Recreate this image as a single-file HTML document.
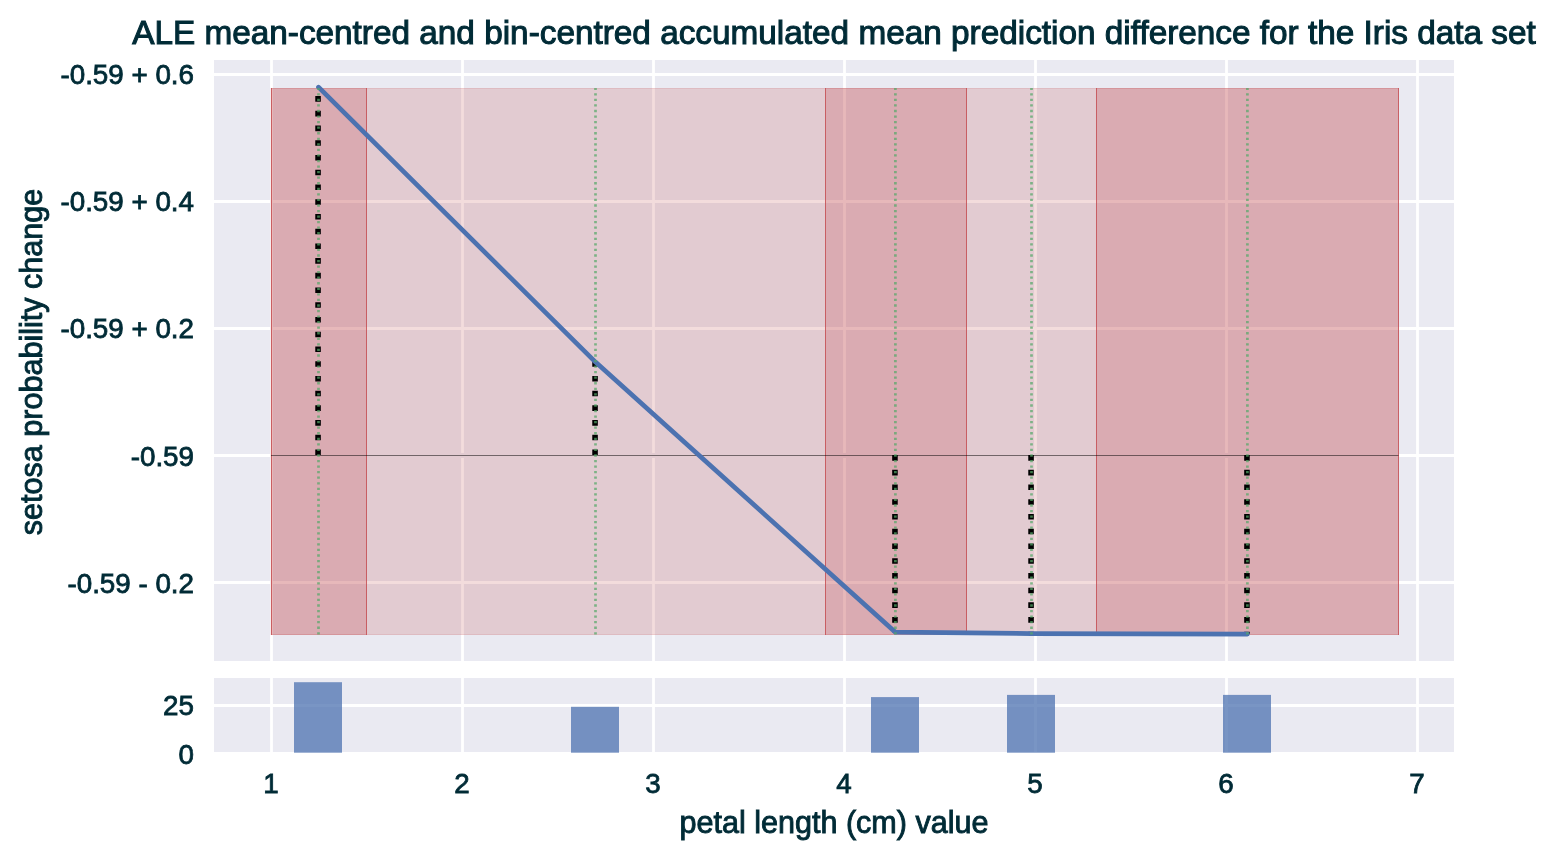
<!DOCTYPE html>
<html><head><meta charset="utf-8"><style>
html,body{margin:0;padding:0;background:#fff;overflow:hidden;}
svg{display:block;will-change:transform;}
text{font-family:"Liberation Sans", sans-serif;}
</style></head><body>
<svg width="1556" height="860" viewBox="0 0 1556 860">
<rect x="0" y="0" width="1556" height="860" fill="#ffffff"/>
<rect x="214" y="60" width="1240" height="601" fill="#EAEAF2"/>
<line x1="271.5" y1="60" x2="271.5" y2="661" stroke="#fff" stroke-width="2.78"/>
<line x1="462.5" y1="60" x2="462.5" y2="661" stroke="#fff" stroke-width="2.78"/>
<line x1="653.5" y1="60" x2="653.5" y2="661" stroke="#fff" stroke-width="2.78"/>
<line x1="844.5" y1="60" x2="844.5" y2="661" stroke="#fff" stroke-width="2.78"/>
<line x1="1035.5" y1="60" x2="1035.5" y2="661" stroke="#fff" stroke-width="2.78"/>
<line x1="1226.5" y1="60" x2="1226.5" y2="661" stroke="#fff" stroke-width="2.78"/>
<line x1="1417.5" y1="60" x2="1417.5" y2="661" stroke="#fff" stroke-width="2.78"/>
<line x1="214" y1="74.5" x2="1454" y2="74.5" stroke="#fff" stroke-width="2.78"/>
<line x1="214" y1="201.5" x2="1454" y2="201.5" stroke="#fff" stroke-width="2.78"/>
<line x1="214" y1="328.5" x2="1454" y2="328.5" stroke="#fff" stroke-width="2.78"/>
<line x1="214" y1="455.5" x2="271" y2="455.5" stroke="#fff" stroke-width="2.78"/>
<line x1="1399" y1="455.5" x2="1454" y2="455.5" stroke="#fff" stroke-width="2.78"/>
<line x1="214" y1="582.5" x2="1454" y2="582.5" stroke="#fff" stroke-width="2.78"/>
<rect x="270.75" y="88.0" width="95.75" height="547.0" fill="#C44E52" fill-opacity="0.4"/>
<line x1="271.5" y1="88.5" x2="366.5" y2="88.5" stroke="#C44E52" stroke-opacity="0.24" stroke-width="1"/>
<line x1="271.5" y1="634.5" x2="366.5" y2="634.5" stroke="#C44E52" stroke-opacity="0.24" stroke-width="1"/>
<rect x="366.5" y="88.0" width="459.0" height="547.0" fill="#C44E52" fill-opacity="0.2"/>
<line x1="366.5" y1="88.5" x2="825.5" y2="88.5" stroke="#C44E52" stroke-opacity="0.12" stroke-width="1"/>
<line x1="366.5" y1="634.5" x2="825.5" y2="634.5" stroke="#C44E52" stroke-opacity="0.12" stroke-width="1"/>
<rect x="825.5" y="88.0" width="141.0" height="547.0" fill="#C44E52" fill-opacity="0.4"/>
<line x1="825.5" y1="88.5" x2="966.5" y2="88.5" stroke="#C44E52" stroke-opacity="0.24" stroke-width="1"/>
<line x1="825.5" y1="634.5" x2="966.5" y2="634.5" stroke="#C44E52" stroke-opacity="0.24" stroke-width="1"/>
<rect x="966.5" y="88.0" width="130.0" height="547.0" fill="#C44E52" fill-opacity="0.2"/>
<line x1="966.5" y1="88.5" x2="1096.5" y2="88.5" stroke="#C44E52" stroke-opacity="0.12" stroke-width="1"/>
<line x1="966.5" y1="634.5" x2="1096.5" y2="634.5" stroke="#C44E52" stroke-opacity="0.12" stroke-width="1"/>
<rect x="1096.5" y="88.0" width="302.0" height="547.0" fill="#C44E52" fill-opacity="0.4"/>
<line x1="1096.5" y1="88.5" x2="1398.5" y2="88.5" stroke="#C44E52" stroke-opacity="0.24" stroke-width="1"/>
<line x1="1096.5" y1="634.5" x2="1398.5" y2="634.5" stroke="#C44E52" stroke-opacity="0.24" stroke-width="1"/>
<line x1="271.5" y1="88.0" x2="271.5" y2="635.0" stroke="#C44E52" stroke-opacity="0.85" stroke-width="1"/>
<line x1="366.5" y1="88.0" x2="366.5" y2="635.0" stroke="#C44E52" stroke-opacity="0.85" stroke-width="1"/>
<line x1="825.5" y1="88.0" x2="825.5" y2="635.0" stroke="#C44E52" stroke-opacity="0.85" stroke-width="1"/>
<line x1="966.5" y1="88.0" x2="966.5" y2="635.0" stroke="#C44E52" stroke-opacity="0.85" stroke-width="1"/>
<line x1="1096.5" y1="88.0" x2="1096.5" y2="635.0" stroke="#C44E52" stroke-opacity="0.85" stroke-width="1"/>
<line x1="1398.5" y1="88.0" x2="1398.5" y2="635.0" stroke="#C44E52" stroke-opacity="0.85" stroke-width="1"/>
<rect x="460.5" y="453" width="4" height="5" fill="rgb(226,203,209)"/>
<rect x="651.5" y="453" width="4" height="5" fill="rgb(226,203,209)"/>
<rect x="842.5" y="453" width="4" height="5" fill="rgb(218,171,178)"/>
<rect x="1033.5" y="453" width="4" height="5" fill="rgb(226,203,209)"/>
<rect x="1224.5" y="453" width="4" height="5" fill="rgb(218,171,178)"/>
<line x1="271" y1="455.5" x2="1398.5" y2="455.5" stroke="#000" stroke-opacity="0.5" stroke-width="1.15"/>
<line x1="318.05" y1="455.1" x2="318.05" y2="87.2" stroke="#000" stroke-width="5.556" stroke-dasharray="5.556 9.17"/>
<line x1="595.05" y1="455.1" x2="595.05" y2="362.1" stroke="#000" stroke-width="5.556" stroke-dasharray="5.556 9.17"/>
<line x1="894.9499999999999" y1="455.1" x2="894.9499999999999" y2="632.2" stroke="#000" stroke-width="5.556" stroke-dasharray="5.556 9.17"/>
<line x1="1031.05" y1="455.1" x2="1031.05" y2="633.6" stroke="#000" stroke-width="5.556" stroke-dasharray="5.556 9.17"/>
<line x1="1246.95" y1="455.1" x2="1246.95" y2="634.1" stroke="#000" stroke-width="5.556" stroke-dasharray="5.556 9.17"/>
<path d="M318.5,87.2 L595.5,362.1 L895.4,632.2 L1031.5,633.6 L1247.4,634.1" fill="none" stroke="#4C72B0" stroke-width="4.7" stroke-linecap="round" stroke-linejoin="round"/>
<line x1="318.5" y1="88.0" x2="318.5" y2="635.0" stroke="#55A868" stroke-opacity="0.72" stroke-dashoffset="0.35" stroke-width="2.7" stroke-dasharray="2.3 3.256"/>
<line x1="595.5" y1="88.0" x2="595.5" y2="635.0" stroke="#55A868" stroke-opacity="0.72" stroke-dashoffset="0.35" stroke-width="2.7" stroke-dasharray="2.3 3.256"/>
<line x1="895.4" y1="88.0" x2="895.4" y2="635.0" stroke="#55A868" stroke-opacity="0.72" stroke-dashoffset="0.35" stroke-width="2.7" stroke-dasharray="2.3 3.256"/>
<line x1="1031.5" y1="88.0" x2="1031.5" y2="635.0" stroke="#55A868" stroke-opacity="0.72" stroke-dashoffset="0.35" stroke-width="2.7" stroke-dasharray="2.3 3.256"/>
<line x1="1247.4" y1="88.0" x2="1247.4" y2="635.0" stroke="#55A868" stroke-opacity="0.72" stroke-dashoffset="0.35" stroke-width="2.7" stroke-dasharray="2.3 3.256"/>
<rect x="214" y="678" width="1240" height="74" fill="#EAEAF2"/>
<line x1="271.5" y1="678" x2="271.5" y2="752" stroke="#fff" stroke-width="2.78"/>
<line x1="462.5" y1="678" x2="462.5" y2="752" stroke="#fff" stroke-width="2.78"/>
<line x1="653.5" y1="678" x2="653.5" y2="752" stroke="#fff" stroke-width="2.78"/>
<line x1="844.5" y1="678" x2="844.5" y2="752" stroke="#fff" stroke-width="2.78"/>
<line x1="1035.5" y1="678" x2="1035.5" y2="752" stroke="#fff" stroke-width="2.78"/>
<line x1="1226.5" y1="678" x2="1226.5" y2="752" stroke="#fff" stroke-width="2.78"/>
<line x1="1417.5" y1="678" x2="1417.5" y2="752" stroke="#fff" stroke-width="2.78"/>
<line x1="214" y1="705.5" x2="1454" y2="705.5" stroke="#fff" stroke-width="2.78"/>
<rect x="294" y="682.2" width="48" height="70.5" fill="#4C72B0" fill-opacity="0.75"/>
<rect x="571" y="706.8" width="48" height="45.90000000000009" fill="#4C72B0" fill-opacity="0.75"/>
<rect x="871" y="697.1" width="48" height="55.60000000000002" fill="#4C72B0" fill-opacity="0.75"/>
<rect x="1007" y="694.9" width="48" height="57.80000000000007" fill="#4C72B0" fill-opacity="0.75"/>
<rect x="1223" y="694.9" width="48" height="57.80000000000007" fill="#4C72B0" fill-opacity="0.75"/>
<text x="834" y="43.7" font-family="Liberation Sans, sans-serif" stroke="#002b36" stroke-width="1.05" font-size="33.33" fill="#002b36" text-anchor="middle">ALE mean-centred and bin-centred accumulated mean prediction difference for the Iris data set</text>
<text x="194" y="84.0" font-family="Liberation Sans, sans-serif" stroke="#002b36" stroke-width="0.8" font-size="27.78" fill="#002b36" text-anchor="end">-0.59 + 0.6</text>
<text x="194" y="211.0" font-family="Liberation Sans, sans-serif" stroke="#002b36" stroke-width="0.8" font-size="27.78" fill="#002b36" text-anchor="end">-0.59 + 0.4</text>
<text x="194" y="338.0" font-family="Liberation Sans, sans-serif" stroke="#002b36" stroke-width="0.8" font-size="27.78" fill="#002b36" text-anchor="end">-0.59 + 0.2</text>
<text x="194" y="465.8" font-family="Liberation Sans, sans-serif" stroke="#002b36" stroke-width="0.8" font-size="27.78" fill="#002b36" text-anchor="end">-0.59</text>
<text x="194" y="593.0" font-family="Liberation Sans, sans-serif" stroke="#002b36" stroke-width="0.8" font-size="27.78" fill="#002b36" text-anchor="end">-0.59 - 0.2</text>
<text x="194" y="715.0" font-family="Liberation Sans, sans-serif" stroke="#002b36" stroke-width="0.8" font-size="27.78" fill="#002b36" text-anchor="end">25</text>
<text x="194" y="763.8" font-family="Liberation Sans, sans-serif" stroke="#002b36" stroke-width="0.8" font-size="27.78" fill="#002b36" text-anchor="end">0</text>
<text x="270.9" y="793" font-family="Liberation Sans, sans-serif" stroke="#002b36" stroke-width="0.8" font-size="27.78" fill="#002b36" text-anchor="middle">1</text>
<text x="461.9" y="793" font-family="Liberation Sans, sans-serif" stroke="#002b36" stroke-width="0.8" font-size="27.78" fill="#002b36" text-anchor="middle">2</text>
<text x="652.9" y="793" font-family="Liberation Sans, sans-serif" stroke="#002b36" stroke-width="0.8" font-size="27.78" fill="#002b36" text-anchor="middle">3</text>
<text x="843.9" y="793" font-family="Liberation Sans, sans-serif" stroke="#002b36" stroke-width="0.8" font-size="27.78" fill="#002b36" text-anchor="middle">4</text>
<text x="1034.9" y="793" font-family="Liberation Sans, sans-serif" stroke="#002b36" stroke-width="0.8" font-size="27.78" fill="#002b36" text-anchor="middle">5</text>
<text x="1225.9" y="793" font-family="Liberation Sans, sans-serif" stroke="#002b36" stroke-width="0.8" font-size="27.78" fill="#002b36" text-anchor="middle">6</text>
<text x="1416.9" y="793" font-family="Liberation Sans, sans-serif" stroke="#002b36" stroke-width="0.8" font-size="27.78" fill="#002b36" text-anchor="middle">7</text>
<text x="834" y="832.6" font-family="Liberation Sans, sans-serif" stroke="#002b36" stroke-width="0.9" font-size="30.56" fill="#002b36" text-anchor="middle">petal length (cm) value</text>
<text transform="translate(42,362) rotate(-90)" x="0" y="0" font-family="Liberation Sans, sans-serif" stroke="#002b36" stroke-width="0.9" font-size="30.56" fill="#002b36" text-anchor="middle">setosa probability change</text>
</svg>
</body></html>
